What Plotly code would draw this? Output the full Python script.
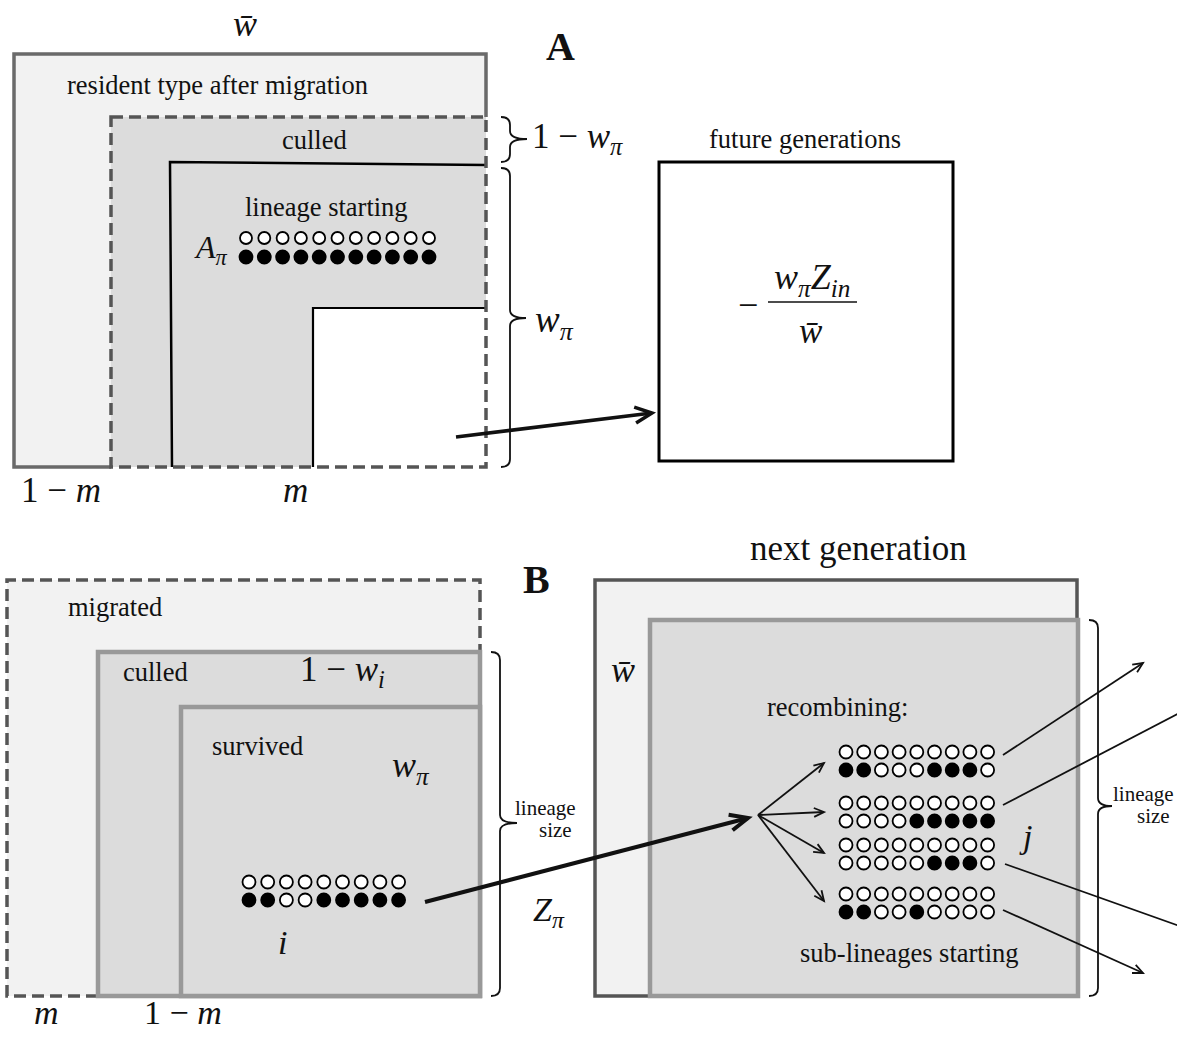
import math
import plotly.graph_objects as go

# ---------------- data (allele patterns) ----------------
A_top_row = [0] * 11
A_bottom_row = [1] * 11
B_i_top_row = [0] * 9
B_i_bottom_row = [1, 1, 0, 0, 1, 1, 1, 1, 1]
recomb_top_rows = [[0] * 9, [0] * 9, [0] * 9, [0] * 9]
recomb_bottom_rows = [
    [1, 1, 0, 0, 0, 1, 1, 1, 0],
    [0, 0, 0, 0, 1, 1, 1, 1, 1],
    [0, 0, 0, 0, 0, 1, 1, 1, 0],
    [1, 1, 0, 0, 1, 0, 0, 0, 0],
]

W, H = 1177, 1037
SERIF = "Liberation Serif, Times New Roman, serif"
LIGHT = "#f2f2f2"
MID = "#dcdcdc"
LABEL = 26.5

fig = go.Figure()
shapes = []
annots = []


def rect(x0, y0, x1, y1, fill=None, line=None, lw=0, dash="solid"):
    shapes.append(dict(type="rect", xref="x", yref="y", x0=x0, y0=y0, x1=x1, y1=y1,
                       fillcolor=fill if fill else "rgba(0,0,0,0)",
                       line=dict(color=line if line else "rgba(0,0,0,0)", width=lw, dash=dash),
                       layer="below"))


def path(d, color, lw, dash="solid"):
    shapes.append(dict(type="path", xref="x", yref="y", path=d,
                       line=dict(color=color, width=lw, dash=dash), layer="below"))


def brace(x, y0, y1, ym, tip):
    r = 8
    d = (f"M {x-9},{y0} Q {x},{y0} {x},{y0+r} L {x},{ym-r} "
         f"Q {x},{ym} {tip},{ym} Q {x},{ym} {x},{ym+r} L {x},{y1-r} "
         f"Q {x},{y1} {x-9},{y1}")
    path(d, "#111111", 1.8)


def text(x, y, s, size=LABEL, xanchor="center", align="center", bold=False):
    if bold:
        s = f"<b>{s}</b>"
    annots.append(dict(x=x, y=y, xref="x", yref="y", text=s, showarrow=False,
                       xanchor=xanchor, yanchor="middle", align=align,
                       font=dict(family=SERIF, size=size, color="#111111")))


def arrow(x0, y0, x1, y1, width, head_len, head_w):
    path(f"M {x0},{y0} L {x1},{y1}", "#111111", width)
    dx, dy = x1 - x0, y1 - y0
    n = math.hypot(dx, dy)
    ux, uy = dx / n, dy / n
    px, py = -uy, ux
    bx, by = x1 - head_len * ux, y1 - head_len * uy
    d = (f"M {bx + head_w * px:.1f},{by + head_w * py:.1f} L {x1},{y1} "
         f"L {bx - head_w * px:.1f},{by - head_w * py:.1f}")
    path(d, "#111111", width)


def dots(x0, dx, y, row, size=13):
    xs = [x0 + k * dx for k in range(len(row))]
    fig.add_trace(go.Scatter(
        x=xs, y=[y] * len(row), mode="markers", hoverinfo="skip", showlegend=False,
        marker=dict(size=size, color=["#000000" if v else "#ffffff" for v in row],
                    line=dict(color="#000000", width=1.8))))


DASH = "12px,6px"

# ================= Panel A =================
rect(14, 54, 486, 467, fill=LIGHT)
path("M 111,467 L 14,467 L 14,54 L 486,54 L 486,117", "#6a6a6a", 3.5)
rect(111, 117, 486, 467, fill=MID)
rect(313, 308, 486, 467, fill="#ffffff")
path("M 172,467 L 170,162 L 486,165", "#000000", 2.5)
path("M 313,467 L 313,308 L 486,308", "#000000", 2.2)
rect(111, 117, 486, 467, line="#555555", lw=3.5, dash=DASH)

brace(510, 117, 162, 139, 527)
brace(510, 168, 467, 318, 526)

rect(659, 162, 953, 461, fill="#ffffff", line="#000000", lw=3)
path("M 768,302 L 857,302", "#111111", 1.5)

text(245, 24, "<i>w̄</i>", 36)
text(560, 46, "A", 40, bold=True)
text(217, 85, "resident type after migration")
text(314, 140, "culled")
text(326, 207, "lineage starting")
text(211, 249, "<i>A</i><sub><i>π</i></sub>", 32)
text(530, 138, "1 − <i>w</i><sub><i>π</i></sub>", 35, xanchor="left")
text(533, 322, "<i>w</i><sub><i>π</i></sub>", 37, xanchor="left")
text(805, 139, "future generations")
text(748, 305, "−", 36)
text(812, 279, "<i>w</i><sub><i>π</i></sub><i>Z</i><sub><i>in</i></sub>", 36)
text(811, 331, "<i>w̄</i>", 35)
text(61, 490, "1 − <i>m</i>", 35)
text(295, 490, "<i>m</i>", 35)

dots(246, 18.3, 238, A_top_row, 12)
dots(246, 18.3, 257, A_bottom_row, 13)

arrow(456, 437, 652, 413, 3.5, 17, 8)

# ================= Panel B (left) =================
rect(7, 580, 480, 996, fill=LIGHT)
path("M 98,996 L 7,996 L 7,580 L 480,580 L 480,652", "#555555", 3.5, dash=DASH)
rect(98, 652, 480, 996, fill=MID, line="#999999", lw=4.5)
rect(181, 707, 480, 996, fill=MID, line="#999999", lw=4.5)

brace(500, 652, 996, 823, 517)

text(536, 579, "B", 40, bold=True)
text(858, 548, "next generation", 35)
text(115, 607, "migrated")
text(155, 672, "culled")
text(342, 671, "1 − <i>w</i><sub><i>i</i></sub>", 35)
text(257, 746, "survived")
text(411, 767, "<i>w</i><sub><i>π</i></sub>", 36)
text(282, 942, "<i>i</i>", 34)
text(578, 808, "lineage", 21, xanchor="right")
text(574, 830, "size", 21, xanchor="right")
text(549, 912, "<i>Z</i><sub><i>π</i></sub>", 34)
text(46, 1012, "<i>m</i>", 34)
text(183, 1012, "1 − <i>m</i>", 34)

dots(249, 18.7, 882, B_i_top_row, 13)
dots(249, 18.7, 900, B_i_bottom_row, 13)

# ================= Panel B (right) =================
rect(595, 580, 1077, 996, fill=LIGHT, line="#555555", lw=3.5)
rect(650, 620, 1078, 996, fill=MID, line="#999999", lw=4.5)

brace(1098, 620, 996, 806, 1112)

text(623, 670, "<i>w̄</i>", 36)
text(837, 707, "recombining:")
text(1025, 836, "<i>j</i>", 34)
text(909, 953, "sub-lineages starting")
text(1176, 794, "lineage", 21, xanchor="right")
text(1172, 816, "size", 21, xanchor="right")

group_y = [752, 803, 845, 894]
for gy, top, bot in zip(group_y, recomb_top_rows, recomb_bottom_rows):
    dots(846, 17.7, gy, top, 13)
    dots(846, 17.7, gy + 18, bot, 13)

arrow(425, 902, 748, 818, 4, 18, 8)

# fan of thin arrows
for ty in [763, 812, 853, 901]:
    arrow(758, 815, 824, ty, 1.8, 10, 4.5)

# outgoing arrows
arrow(1003, 755, 1143, 663, 1.8, 10, 4.5)
path("M 1003,805 L 1185,710", "#111111", 1.8)
path("M 1005,864 L 1185,928", "#111111", 1.8)
arrow(1003, 910, 1143, 973, 1.8, 10, 4.5)

fig.update_layout(
    width=W, height=H, margin=dict(l=0, r=0, t=0, b=0),
    paper_bgcolor="#ffffff", plot_bgcolor="#ffffff",
    xaxis=dict(range=[0, W], visible=False, fixedrange=True),
    yaxis=dict(range=[H, 0], visible=False, fixedrange=True),
    shapes=shapes, annotations=annots, showlegend=False,
)

fig.write_html("out.html", post_script="document.body.style.margin='0';document.body.style.overflow='hidden';",
               config={"displayModeBar": False})
